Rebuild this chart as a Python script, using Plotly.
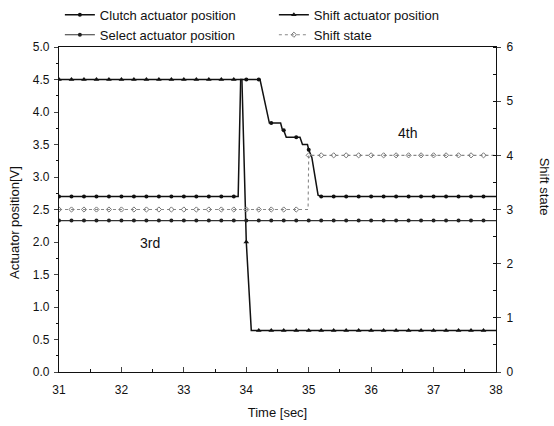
import plotly.graph_objects as go

# ---- data ----
T_GRID = [31.0, 31.2, 31.4, 31.6, 31.8, 32.0, 32.2, 32.4, 32.6, 32.8,
          33.0, 33.2, 33.4, 33.6, 33.8, 34.0, 34.2, 34.4, 34.6, 34.8,
          35.0, 35.2, 35.4, 35.6, 35.8, 36.0, 36.2, 36.4, 36.6, 36.8,
          37.0, 37.2, 37.4, 37.6, 37.8]

CLUTCH_GRID = [2.70, 2.70, 2.70, 2.70, 2.70, 2.70, 2.70, 2.70, 2.70, 2.70,
               2.70, 2.70, 2.70, 2.70, 2.70, 4.50, 4.50, 3.83, 3.72, 3.61,
               3.42, 2.70, 2.70, 2.70, 2.70, 2.70, 2.70, 2.70, 2.70, 2.70,
               2.70, 2.70, 2.70, 2.70, 2.70]
CLUTCH_EXTRA_T = [33.87, 33.91, 34.22, 34.37, 34.55, 34.58, 34.64, 34.86,
                  34.90, 34.98, 35.05, 35.15, 38.0]
CLUTCH_EXTRA_V = [2.70, 4.50, 4.50, 3.83, 3.83, 3.72, 3.61, 3.61,
                  3.50, 3.50, 3.30, 2.72, 2.70]

SHIFT_GRID = [4.50, 4.50, 4.50, 4.50, 4.50, 4.50, 4.50, 4.50, 4.50, 4.50,
              4.50, 4.50, 4.50, 4.50, 4.50, 2.00, 0.64, 0.64, 0.64, 0.64,
              0.64, 0.64, 0.64, 0.64, 0.64, 0.64, 0.64, 0.64, 0.64, 0.64,
              0.64, 0.64, 0.64, 0.64, 0.64]
SHIFT_EXTRA_T = [33.93, 34.08, 38.0]
SHIFT_EXTRA_V = [4.50, 0.64, 0.64]

SELECT_GRID = [2.33, 2.33, 2.33, 2.33, 2.33, 2.33, 2.33, 2.33, 2.33, 2.33,
               2.33, 2.33, 2.33, 2.33, 2.33, 2.33, 2.33, 2.33, 2.33, 2.33,
               2.33, 2.33, 2.33, 2.33, 2.33, 2.33, 2.33, 2.33, 2.33, 2.33,
               2.33, 2.33, 2.33, 2.33, 2.33]
SELECT_EXTRA_T = [38.0]
SELECT_EXTRA_V = [2.33]

STATE_GRID = [3, 3, 3, 3, 3, 3, 3, 3, 3, 3,
              3, 3, 3, 3, 3, 3, 3, 3, 3, 3,
              4, 4, 4, 4, 4, 4, 4, 4, 4, 4,
              4, 4, 4, 4, 4]
STATE_EXTRA_T = [34.99, 38.0]
STATE_EXTRA_V = [3, 4]

NAMES = ["Clutch actuator position", "Shift actuator position",
         "Select actuator position", "Shift state"]
X_TICKS = [31, 32, 33, 34, 35, 36, 37, 38]
Y_TICKS = [0.0, 0.5, 1.0, 1.5, 2.0, 2.5, 3.0, 3.5, 4.0, 4.5, 5.0]
Y2_TICKS = [0, 1, 2, 3, 4, 5, 6]
LABELS = [("3rd", 32.45, 1.98), ("4th", 36.59, 3.68)]


def merged(grid_v, extra_t, extra_v):
    pts = sorted(list(zip(T_GRID, grid_v)) + list(zip(extra_t, extra_v)))
    return [p[0] for p in pts], [p[1] for p in pts]


FONT = "Liberation Sans, Arial, sans-serif"
fig = go.Figure()

series = [
    (NAMES[0], CLUTCH_GRID, CLUTCH_EXTRA_T, CLUTCH_EXTRA_V, "y",
     dict(color="#111", width=1.5), dict(symbol="circle", size=4, color="#111")),
    (NAMES[1], SHIFT_GRID, SHIFT_EXTRA_T, SHIFT_EXTRA_V, "y",
     dict(color="#111", width=1.5), dict(symbol="triangle-up", size=5, color="#111")),
    (NAMES[2], SELECT_GRID, SELECT_EXTRA_T, SELECT_EXTRA_V, "y",
     dict(color="#333", width=1.2), dict(symbol="circle", size=4, color="#222")),
    (NAMES[3], STATE_GRID, STATE_EXTRA_T, STATE_EXTRA_V, "y2",
     dict(color="#888", width=1.1, dash="dot"),
     dict(symbol="diamond-open", size=4, color="#777", line=dict(width=1, color="#777"))),
]

for name, grid_v, et, ev, yax, line, marker in series:
    xs, ys = merged(grid_v, et, ev)
    fig.add_trace(go.Scatter(x=xs, y=ys, mode="lines", line=line, yaxis=yax,
                             legendgroup=name, showlegend=False, hoverinfo="skip"))
    fig.add_trace(go.Scatter(x=T_GRID, y=grid_v, mode="markers", marker=marker,
                             yaxis=yax, legendgroup=name, showlegend=False))
    fig.add_trace(go.Scatter(x=[None], y=[None], mode="lines+markers", name=name,
                             line=line, marker=marker, yaxis=yax, legendgroup=name))

for txt, x, y in LABELS:
    fig.add_annotation(x=x, y=y, text=txt, showarrow=False,
                       font=dict(size=14, color="#111", family=FONT))

fig.add_annotation(xref="paper", yref="paper", x=-0.102, y=0.46, text="Actuator position[V]",
                   textangle=-90, showarrow=False, font=dict(size=13, color="#111", family=FONT),
                   xanchor="center", yanchor="middle")
fig.add_annotation(xref="paper", yref="paper", x=1.11, y=0.57, text="Shift state",
                   textangle=90, showarrow=False, font=dict(size=13, color="#111", family=FONT),
                   xanchor="center", yanchor="middle")

fig.update_layout(
    width=554, height=426,
    margin=dict(l=59, r=58, t=47, b=54, autoexpand=False),
    paper_bgcolor="white", plot_bgcolor="white",
    font=dict(family=FONT, size=12, color="#111"),
    showlegend=True,
    legend=dict(orientation="h", xref="paper", yref="paper",
                x=0.002, y=1.145, xanchor="left", yanchor="top",
                entrywidth=169, entrywidthmode="pixels",
                font=dict(size=13, family=FONT, color="#111"),
                itemwidth=30, tracegroupgap=0, bgcolor="rgba(0,0,0,0)"),
    xaxis=dict(range=[31, 38], tickvals=X_TICKS, ticks="inside", ticklen=5,
               showline=True, linecolor="#111", linewidth=1.2, mirror=True,
               showgrid=False, zeroline=False, ticklabelstandoff=6,
               minor=dict(ticks="inside", ticklen=3, dtick=0.5, tickcolor="#111"),
               title=dict(text="Time [sec]", font=dict(size=13, family=FONT), standoff=12),
               tickfont=dict(size=12)),
    yaxis=dict(range=[0, 5], tickvals=Y_TICKS, tickformat=".1f", ticks="outside", ticklen=4,
               showline=True, linecolor="#111", linewidth=1.2, ticklabelstandoff=2,
               showgrid=False, zeroline=False,
               minor=dict(ticks="outside", ticklen=2, dtick=0.25, tickcolor="#111"),
               tickfont=dict(size=12)),
    yaxis2=dict(range=[0, 6], tickvals=Y2_TICKS, overlaying="y", side="right",
                ticks="outside", ticklen=4, showline=True, linecolor="#111", linewidth=1.2,
                showgrid=False, zeroline=False, ticklabelstandoff=3,
                minor=dict(ticks="inside", ticklen=3, dtick=0.5, tickcolor="#111"),
                tickfont=dict(size=12)),
)

fig.write_html("out.html")
